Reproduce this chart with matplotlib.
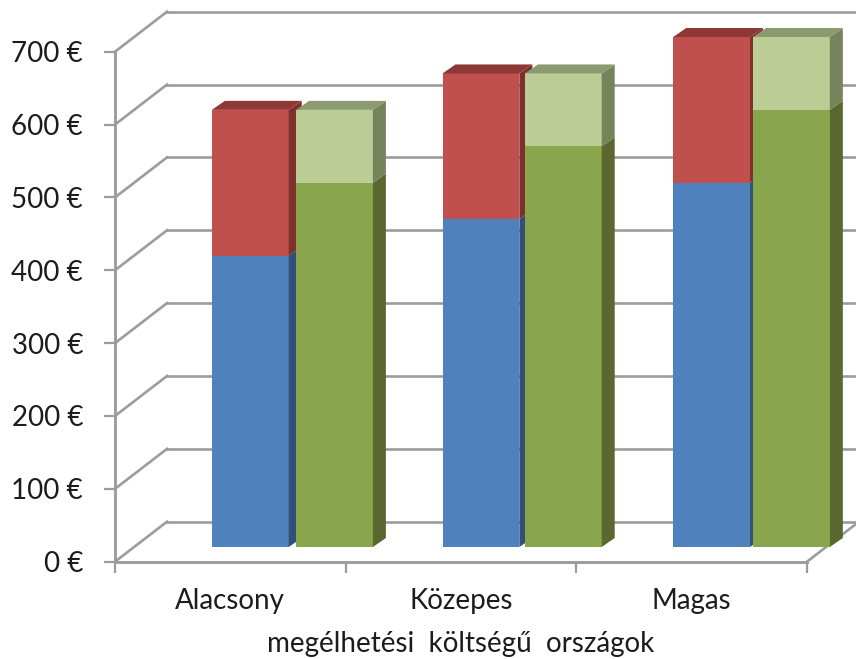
import matplotlib
matplotlib.use('Agg')
import matplotlib.pyplot as plt
from matplotlib.patches import Polygon

categories = ['Alacsony', 'Közepes', 'Magas']
blue_vals = [400, 450, 500]
red_vals = [200, 200, 200]
green_vals = [500, 550, 600]
light_vals = [100, 100, 100]
y_ticks = [0, 100, 200, 300, 400, 500, 600, 700]

plt.rcParams['font.family'] = ['Lato', 'DejaVu Sans']
GREY = '#9c9c9c'
TXT = '#1c1c1c'

W, H = 856, 659
fig = plt.figure(figsize=(W / 100, H / 100), dpi=100)
ax = fig.add_axes([115 / W, (H - 561.7) / H, 692 / W, 510 / H])
ax.set_xlim(0, 3)
ax.set_ylim(0, 700)

px_x = 3 / 692   # one pixel in x units
px_y = 700 / 510  # one pixel in euros

# wall depth and bar depth
wall_dx, wall_dy = 52 * px_x, 40 * px_y
bar_dx, bar_dy = 13 * px_x, 9 * px_y
base = 14.7 * px_y
right_end = (W - 115) * px_x

for v in y_ticks:
    ax.plot([0, wall_dx], [v, v + wall_dy], color=GREY, lw=1.9, clip_on=False, zorder=1)
    ax.plot([wall_dx, right_end], [v + wall_dy, v + wall_dy], color=GREY, lw=1.9, clip_on=False, zorder=1)
ax.plot([3, right_end], [0, (right_end - 3) / wall_dx * wall_dy], color=GREY, lw=1.9, clip_on=False, zorder=1)


def block(x, w, y0, y1, front, side, top=None, z=3):
    ax.bar(x, y1 - y0, w, bottom=y0, align='edge', color=front, zorder=z, clip_on=False)
    ax.add_patch(Polygon([(x + w, y0), (x + w + bar_dx, y0 + bar_dy), (x + w + bar_dx, y1 + bar_dy), (x + w, y1)],
                         color=side, lw=0, zorder=z, clip_on=False))
    if top:
        ax.add_patch(Polygon([(x, y1), (x + w, y1), (x + w + bar_dx, y1 + bar_dy), (x + bar_dx, y1 + bar_dy)],
                             color=top, lw=0, zorder=z, clip_on=False))


left_a = [0.42, 1.42, 2.42]
left_b = [0.785, 1.777, 2.766]
bw = 0.333
for i in range(3):
    b, r = blue_vals[i], red_vals[i]
    g, l = green_vals[i], light_vals[i]
    block(left_a[i], bw, base, base + b, '#4f81bd', '#2f5077', z=3)
    block(left_a[i], bw, base + b, base + b + r, '#c0504d', '#7e302e', '#8e3836', z=3)
    block(left_b[i], bw, base, base + g, '#8aa64d', '#5a682f', z=4)
    block(left_b[i], bw, base + g, base + g + l, '#bbcc95', '#76845c', '#8c9a70', z=4)

for s in ['top', 'right']:
    ax.spines[s].set_visible(False)
for s in ['left', 'bottom']:
    ax.spines[s].set_color(GREY)
    ax.spines[s].set_linewidth(2.1)

ax.set_yticks(y_ticks)
ax.set_yticklabels([f'{v} €' for v in y_ticks], fontsize=20, color=TXT)
ax.set_xticks([0, 1, 2, 3])
ax.set_xticklabels([])
ax.set_xticks([0.5, 1.5, 2.5], minor=True)
ax.set_xticklabels(categories, minor=True, fontsize=20, color=TXT)
ax.tick_params(axis='y', length=8, width=1.6, color=GREY, pad=15)
ax.tick_params(axis='x', which='major', length=8, width=1.6, color=GREY)
ax.tick_params(axis='x', which='minor', length=0, pad=19)
ax.set_xlabel('megélhetési  költségű  országok', fontsize=20, color=TXT, labelpad=12)

fig.savefig('out.png', dpi=100)
